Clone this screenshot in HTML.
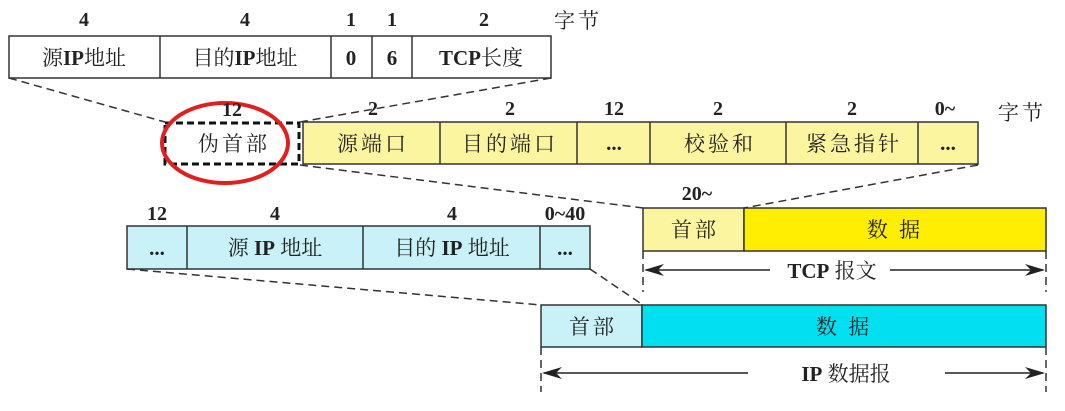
<!DOCTYPE html>
<html><head><meta charset="utf-8"><style>
html,body{margin:0;padding:0;background:#fff;}
svg{display:block;}
text{font-family:"Liberation Serif","Noto Serif CJK SC",serif;font-size:21px;fill:#222;text-anchor:middle;}
.n{font-weight:bold;font-size:20px;}
.s{letter-spacing:3px;}
</style></head><body>
<svg width="1065" height="411" viewBox="0 0 1065 411">
<g stroke="#333" stroke-width="1.5">
<rect x="9" y="36" width="542" height="42" fill="#fff"/>
<line x1="160" y1="36" x2="160" y2="78"/><line x1="331" y1="36" x2="331" y2="78"/><line x1="372" y1="36" x2="372" y2="78"/><line x1="412" y1="36" x2="412" y2="78"/>
<rect x="303" y="122" width="675" height="42" fill="#fbf5a0"/>
<line x1="440" y1="122" x2="440" y2="164"/><line x1="577" y1="122" x2="577" y2="164"/><line x1="650" y1="122" x2="650" y2="164"/><line x1="786" y1="122" x2="786" y2="164"/><line x1="918" y1="122" x2="918" y2="164"/>
<rect x="643" y="208" width="101" height="43" fill="#fbf5a0"/>
<rect x="744" y="208" width="302" height="43" fill="#ffee00"/>
<rect x="127" y="226" width="463" height="43" fill="#c8f2f8"/>
<line x1="187" y1="226" x2="187" y2="269"/><line x1="363" y1="226" x2="363" y2="269"/><line x1="540" y1="226" x2="540" y2="269"/>
<rect x="541" y="305" width="101" height="42" fill="#c8f2f8"/>
<rect x="642" y="305" width="404" height="42" fill="#00e0f0"/>
</g>
<rect x="165" y="123" width="134" height="41" fill="#fff" stroke="#111" stroke-width="3" stroke-dasharray="7,4"/>
<g stroke="#333" stroke-width="1.5" stroke-dasharray="8,5" fill="none">
<line x1="9" y1="78" x2="165" y2="122"/><line x1="551" y1="78" x2="300" y2="122"/>
<line x1="300" y1="165" x2="643" y2="208"/><line x1="978" y1="165" x2="744" y2="208"/>
<line x1="127" y1="269" x2="541" y2="305"/><line x1="590" y1="269" x2="643" y2="305"/>
<line x1="643" y1="251" x2="643" y2="292"/><line x1="1046" y1="251" x2="1046" y2="292"/>
<line x1="541" y1="347" x2="541" y2="392"/><line x1="1046" y1="347" x2="1046" y2="392"/>
</g>
<ellipse cx="225" cy="143" rx="63" ry="40" fill="none" stroke="#e02020" stroke-width="4"/>
<g stroke="#222" stroke-width="1.5">
<line x1="646" y1="270" x2="770" y2="270"/><line x1="890" y1="270" x2="1043" y2="270"/>
<line x1="544" y1="373" x2="748" y2="373"/><line x1="945" y1="373" x2="1043" y2="373"/>
</g>
<g fill="#222">
<polygon points="644,270 664,264 658,270 664,276"/><polygon points="1045,270 1025,264 1031,270 1025,276"/>
<polygon points="542,373 562,367 556,373 562,379"/><polygon points="1045,373 1025,367 1031,373 1025,379"/>
</g>
<text class="n" x="84" y="26">4</text><text class="n" x="245" y="26">4</text><text class="n" x="351" y="26">1</text><text class="n" x="392" y="26">1</text><text class="n" x="484" y="26">2</text>
<text x="578" y="28" class="s">字节</text>
<text x="84" y="65">源<tspan font-weight="bold">IP</tspan>地址</text>
<text x="245" y="65">目的<tspan font-weight="bold">IP</tspan>地址</text>
<text x="351" y="65" font-weight="bold">0</text><text x="392" y="65" font-weight="bold">6</text>
<text x="481" y="65"><tspan font-weight="bold">TCP</tspan>长度</text>
<text class="n" x="232" y="116">12</text><text class="n" x="373" y="115">2</text><text class="n" x="510" y="115">2</text><text class="n" x="614" y="115">12</text><text class="n" x="718" y="115">2</text><text class="n" x="852" y="115">2</text><text class="n" x="945" y="115">0~</text>
<text x="1022" y="120" class="s">字节</text>
<text x="234" y="151" class="s">伪首部</text>
<text x="373" y="151" class="s">源端口</text><text x="510" y="151" class="s">目的端口</text><text x="614" y="150" font-weight="bold">...</text>
<text x="720" y="151" class="s">校验和</text><text x="854" y="151" class="s">紧急指针</text><text x="948" y="150" font-weight="bold">...</text>
<text class="n" x="697" y="200">20~</text>
<text x="695" y="237" class="s">首部</text><text x="895" y="237" class="s">数 据</text>
<text x="832" y="278"><tspan font-weight="bold">TCP</tspan> 报文</text>
<text class="n" x="157" y="220">12</text><text class="n" x="275" y="220">4</text><text class="n" x="452" y="220">4</text><text class="n" x="565" y="220">0~40</text>
<text x="157" y="255" font-weight="bold">...</text>
<text x="275" y="255">源 <tspan font-weight="bold">IP</tspan> 地址</text>
<text x="452" y="255">目的 <tspan font-weight="bold">IP</tspan> 地址</text>
<text x="565" y="255" font-weight="bold">...</text>
<text x="593" y="334" class="s">首部</text><text x="844" y="334" class="s">数 据</text>
<text x="846" y="381"><tspan font-weight="bold">IP</tspan> 数据报</text>
</svg>
</body></html>
